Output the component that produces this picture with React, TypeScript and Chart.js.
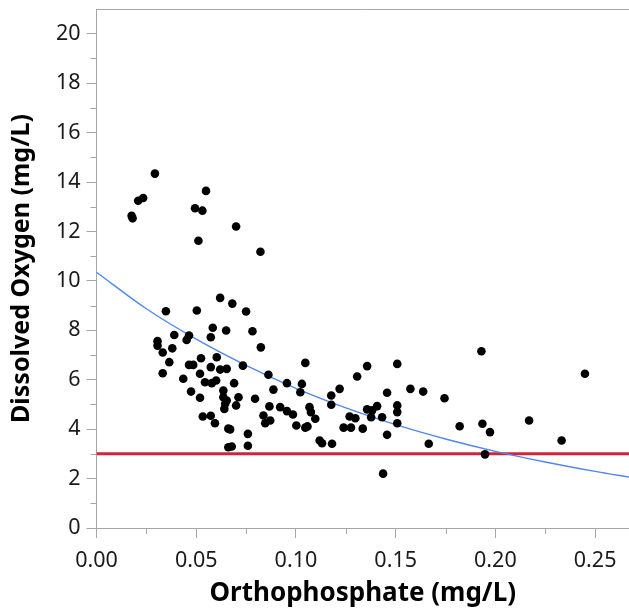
import React, { useEffect, useRef } from "react";
import { Chart, registerables } from "chart.js";

Chart.register(...registerables);

// Scatter data: Orthophosphate (mg/L) vs Dissolved Oxygen (mg/L)
const orthoP = [
  0.0293, 0.0209, 0.0234, 0.0176, 0.0181, 0.0549, 0.0494, 0.0531, 0.070, 0.0511, 0.0822,
  0.062, 0.0681, 0.075, 0.0348, 0.0503,
  0.0583, 0.0573, 0.065, 0.039, 0.0464, 0.0452, 0.0306, 0.0306, 0.038, 0.0332, 0.0365,
  0.0332, 0.0524, 0.0464, 0.0485, 0.0603, 0.0573, 0.062, 0.0653, 0.0519, 0.0435, 0.0544,
  0.0578, 0.060, 0.0636, 0.0474, 0.0519, 0.0636, 0.0645, 0.0641, 0.0533, 0.0573, 0.0594,
  0.0661, 0.0661,
  0.0782, 0.0824, 0.0734, 0.0862, 0.1047, 0.0955, 0.103, 0.1022, 0.0887, 0.069, 0.0653,
  0.0712, 0.070, 0.0795, 0.0867, 0.0921, 0.0955, 0.0985, 0.1068, 0.1075, 0.1097, 0.0837,
  0.0871, 0.0846, 0.1002, 0.1047, 0.1058, 0.067, 0.0759, 0.0678, 0.0759, 0.1119, 0.1131,
  0.1357, 0.1508, 0.1307, 0.1219, 0.1177, 0.1177, 0.1574, 0.1638, 0.1457, 0.1357, 0.1382,
  0.1407, 0.1508, 0.1508, 0.1508, 0.1269, 0.1298, 0.1377, 0.1432, 0.1239, 0.1276, 0.1335,
  0.1457, 0.1181, 0.1666, 0.1437,
  0.193, 0.2449, 0.1745, 0.1821, 0.1935, 0.1973, 0.2169, 0.2332, 0.1948,
];
const dissolvedO2 = [
  14.34, 13.24, 13.35, 12.63, 12.53, 13.64, 12.94, 12.84, 12.2, 11.62, 11.18,
  9.31, 9.08, 8.76, 8.77, 8.8,
  8.1, 7.72, 7.99, 7.81, 7.79, 7.61, 7.56, 7.38, 7.27, 7.1, 6.71,
  6.26, 6.87, 6.6, 6.6, 6.91, 6.51, 6.41, 6.44, 6.24, 6.04, 5.9,
  5.86, 5.97, 5.56, 5.52, 5.27, 5.29, 5.03, 4.82, 4.51, 4.54, 4.24,
  4.02, 3.27,
  7.96, 7.31, 6.57, 6.2, 6.68, 5.86, 5.83, 5.49, 5.6, 5.86, 5.16,
  5.29, 4.96, 5.23, 4.92, 4.89, 4.73, 4.59, 4.89, 4.69, 4.42, 4.55,
  4.35, 4.24, 4.15, 4.06, 4.11, 3.99, 3.81, 3.3, 3.33, 3.54, 3.43,
  6.55, 6.64, 6.13, 5.63, 5.36, 4.99, 5.63, 5.52, 5.47, 4.8, 4.76,
  4.93, 4.96, 4.69, 4.24, 4.51, 4.44, 4.48, 4.48, 4.06, 4.06, 4.02,
  3.77, 3.41, 3.41, 2.2,
  7.15, 6.24, 5.25, 4.12, 4.22, 3.88, 4.35, 3.54, 2.98,
];

// Fitted curve
const fitX = [0, 0.025, 0.05, 0.075, 0.1, 0.125, 0.15, 0.175, 0.2, 0.225, 0.25, 0.267];
const fitY = [10.35, 8.87, 7.64, 6.58, 5.65, 4.86, 4.18, 3.6, 3.1, 2.67, 2.29, 2.06];

// Reference level
const limitX = [0, 0.267];
const limitY = [3, 3];

// Axis ticks
const xTicks = [0, 0.05, 0.1, 0.15, 0.2, 0.25];
const xMinor = [0.025, 0.075, 0.125, 0.175, 0.225];
const yTicks = [0, 2, 4, 6, 8, 10, 12, 14, 16, 18, 20];
const yMinor = [1, 3, 5, 7, 9, 11, 13, 15, 17, 19];

const X_MIN = 0;
const X_MAX = 0.267;
const Y_MIN = 0;
const Y_MAX = 21;

const FONT = "'Noto Sans', sans-serif";
const AXIS_COLOR = "#a6a6a6";

const minorPlugin = {
  id: "minorTicksFrame",
  afterDraw(chart: any) {
    const { ctx, chartArea } = chart;
    const xs = chart.scales.x;
    const ys = chart.scales.y;
    ctx.save();
    ctx.strokeStyle = AXIS_COLOR;
    ctx.lineWidth = 1;
    ctx.beginPath();
    for (const v of xMinor) {
      const px = Math.round(xs.getPixelForValue(v)) + 0.5;
      ctx.moveTo(px, chartArea.bottom);
      ctx.lineTo(px, chartArea.bottom + 6);
    }
    for (const v of yMinor) {
      const py = Math.round(ys.getPixelForValue(v)) + 0.5;
      ctx.moveTo(chartArea.left, py);
      ctx.lineTo(chartArea.left - 6, py);
    }
    // top frame
    const ty = Math.round(chartArea.top) + 0.5;
    ctx.moveTo(chartArea.left, ty);
    ctx.lineTo(chartArea.right, ty);
    ctx.stroke();
    ctx.restore();
  },
};

export default function App() {
  const ref = useRef<HTMLCanvasElement | null>(null);

  useEffect(() => {
    if (!ref.current) return;
    const points = orthoP.map((x, i) => ({ x, y: dissolvedO2[i] }));
    const fit = fitX.map((x, i) => ({ x, y: fitY[i] }));
    const limit = limitX.map((x, i) => ({ x, y: limitY[i] }));

    const chart = new Chart(ref.current, {
      type: "scatter",
      data: {
        datasets: [
          {
            label: "Observations",
            data: points,
            backgroundColor: "#000000",
            borderWidth: 0,
            pointRadius: 4.3,
            pointHoverRadius: 4.3,
          },
          {
            label: "Fit",
            type: "line",
            data: fit,
            borderColor: "#5088f0",
            borderWidth: 1.4,
            pointRadius: 0,
            tension: 0.4,
            cubicInterpolationMode: "monotone",
            fill: false,
          },
          {
            label: "Limit",
            type: "line",
            data: limit,
            borderColor: "#d0243d",
            borderWidth: 3,
            pointRadius: 0,
            fill: false,
          },
        ],
      } as any,
      options: {
        animation: false,
        responsive: false,
        maintainAspectRatio: false,
        layout: { autoPadding: false, padding: { top: 9, right: 0, left: 0, bottom: 0 } },
        plugins: {
          legend: { display: false },
          tooltip: { enabled: false },
        },
        scales: {
          x: {
            type: "linear",
            min: X_MIN,
            max: X_MAX,
            afterBuildTicks: (scale: any) => {
              scale.ticks = xTicks.map((v) => ({ value: v }));
            },
            afterFit: (scale: any) => {
              scale.height = 81;
              scale.paddingLeft = 0;
              scale.paddingRight = 0;
            },
            ticks: {
              callback: (v: any) => Number(v).toFixed(2),
              font: { family: FONT, size: 21.5 },
              color: "#1a1a1a",
              padding: 10,
              maxRotation: 0,
              autoSkip: false,
            },
            grid: {
              display: true,
              drawOnChartArea: false,
              drawTicks: true,
              tickLength: 10,
              color: AXIS_COLOR,
            },
            border: { display: true, color: AXIS_COLOR, width: 1 },
            title: {
              display: true,
              text: "Orthophosphate (mg/L)",
              font: { family: FONT, size: 26, weight: "bold" },
              color: "#000000",
              padding: { top: 0, bottom: 0 },
            },
          },
          y: {
            type: "linear",
            min: Y_MIN,
            max: Y_MAX,
            afterBuildTicks: (scale: any) => {
              scale.ticks = yTicks.map((v) => ({ value: v }));
            },
            afterFit: (scale: any) => {
              scale.width = 96.5;
              scale.paddingTop = 0;
              scale.paddingBottom = 0;
            },
            ticks: {
              callback: (v: any) => String(v),
              font: { family: FONT, size: 21.5 },
              color: "#1a1a1a",
              padding: 6,
              autoSkip: false,
            },
            grid: {
              display: true,
              drawOnChartArea: false,
              drawTicks: true,
              tickLength: 10,
              color: AXIS_COLOR,
            },
            border: { display: true, color: AXIS_COLOR, width: 1 },
            title: {
              display: true,
              text: "Dissolved Oxygen (mg/L)",
              font: { family: FONT, size: 25, weight: "bold" },
              color: "#000000",
              padding: { top: 7, bottom: 0 },
            },
          },
        },
      } as any,
      plugins: [minorPlugin],
    });
    return () => chart.destroy();
  }, []);

  return (
    <div style={{ position: "absolute", left: 0, top: 0, width: 629, height: 609, background: "#fff" }}>
      <canvas ref={ref} width={629} height={609} style={{ display: "block" }} />
    </div>
  );
}
